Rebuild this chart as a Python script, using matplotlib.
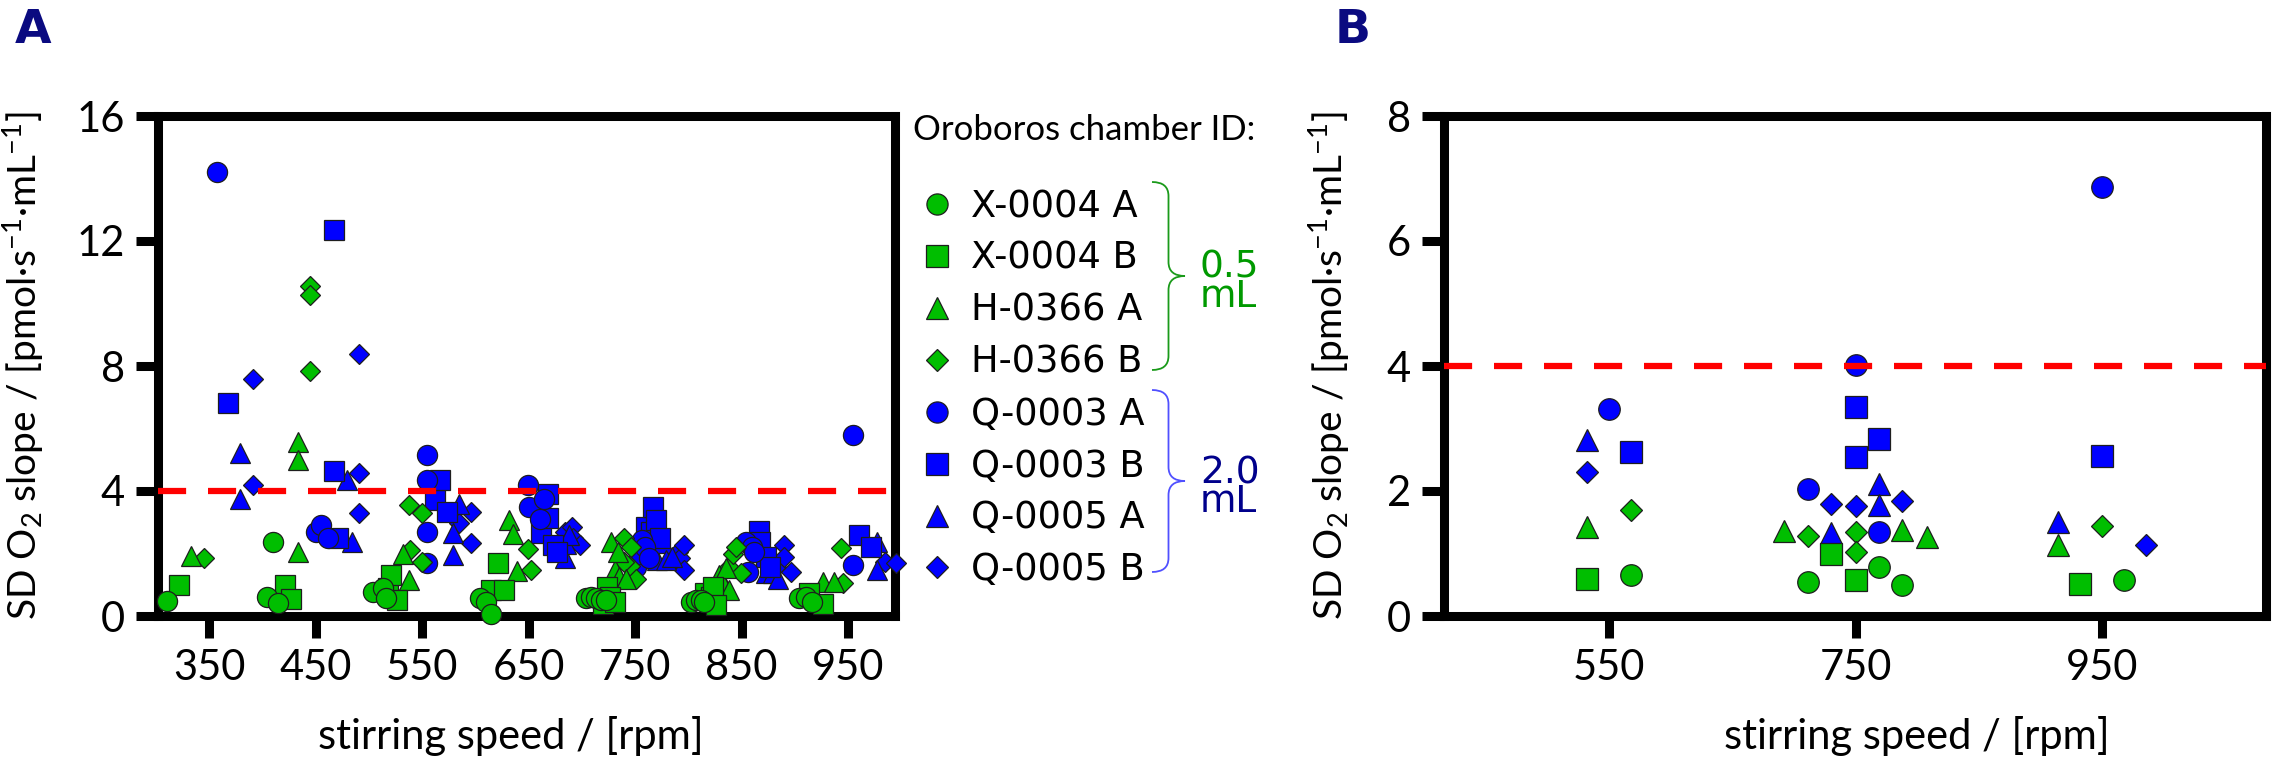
import matplotlib
matplotlib.use('Agg')
import matplotlib.pyplot as plt
from matplotlib.path import Path
from matplotlib.patches import PathPatch

plt.rcParams['font.family'] = ['Lato', 'DejaVu Sans']
plt.rcParams['mathtext.default'] = 'regular'

# ---- data ----
chambers = ['X-0004 A', 'X-0004 B', 'H-0366 A', 'H-0366 B',
            'Q-0003 A', 'Q-0003 B', 'Q-0005 A', 'Q-0005 B']

# panel A: all stirring speeds
a_x4a_rpm = [310, 404, 410, 415, 504, 513, 516, 604, 610, 615, 704, 709, 713, 718, 723,
             802, 807, 812, 815, 904, 910, 916]
a_x4a_sd = [0.48, 0.62, 2.38, 0.41, 0.78, 0.89, 0.57, 0.57, 0.46, 0.06, 0.57, 0.62, 0.57, 0.51, 0.51,
            0.46, 0.51, 0.51, 0.46, 0.57, 0.62, 0.46]
a_x4b_rpm = [322, 421, 427, 518, 521, 526, 615, 621, 627, 720, 724, 726, 731, 816, 821, 823, 826, 913, 926]
a_x4b_sd = [0.99, 0.99, 0.53, 0.9, 1.31, 0.51, 0.83, 1.69, 0.83, 0.4, 0.94, 0.62, 0.46, 0.73, 0.62, 0.94,
            0.35, 0.73, 0.4]
a_h3a_rpm = [333, 433, 433, 433, 532, 538, 632, 635, 639, 727, 731, 734, 735, 741, 829, 832, 835, 838, 926, 937]
a_h3a_sd = [1.92, 5.58, 4.99, 2.06, 2.0, 1.15, 3.07, 2.62, 1.45, 2.38, 1.47, 2.06, 1.26, 1.2, 1.31, 1.1,
            1.53, 0.83, 1.1, 1.1]
a_h3b_rpm = [345, 445, 445, 445, 538, 550, 539, 550, 649, 652, 740, 746, 745, 751, 740, 838, 842, 845, 849,
             943, 945]
a_h3b_sd = [1.85, 10.57, 10.27, 7.85, 3.55, 3.29, 2.1, 1.74, 2.16, 1.47, 2.49, 2.2, 1.6, 1.2, 1.72, 1.58,
            2.0, 2.22, 1.37, 2.17, 1.05]
a_q3a_rpm = [357, 450, 455, 462, 555, 555, 555, 555, 649, 650, 661, 664, 751, 754, 756, 759, 763, 854, 856,
             860, 862, 955, 955]
a_q3a_sd = [14.2, 2.7, 2.91, 2.49, 5.15, 4.35, 2.7, 1.69, 4.2, 3.5, 3.1, 3.75, 1.58, 2.0, 2.43, 2.22, 1.85,
            2.38, 1.42, 2.22, 2.06, 5.79, 1.63]
a_q3b_rpm = [368, 467, 467, 471, 562, 567, 573, 662, 668, 668, 673, 677, 760, 765, 767, 770, 773, 866, 867,
             873, 877, 960, 971]
a_q3b_sd = [6.83, 12.35, 4.65, 2.49, 3.71, 4.35, 3.34, 2.65, 3.9, 3.15, 2.27, 2.06, 2.86, 2.7, 3.5, 3.07,
            2.49, 2.72, 2.38, 1.88, 1.58, 2.59, 2.22]
a_q5a_rpm = [379, 379, 479, 484, 579, 579, 585, 684, 685, 688, 771, 776, 779, 785, 873, 879, 884, 977, 977]
a_q5a_sd = [5.23, 3.74, 4.35, 2.38, 2.65, 1.95, 3.6, 1.85, 2.3, 2.6, 1.79, 2.33, 1.79, 1.9, 1.37, 1.37,
            1.2, 2.38, 1.47]
a_q5b_rpm = [391, 391, 491, 491, 491, 585, 596, 596, 684, 691, 692, 698, 790, 792, 796, 796, 882, 890, 890,
             896, 985, 995]
a_q5b_sd = [7.58, 4.19, 8.4, 4.57, 3.29, 2.97, 3.34, 2.33, 2.7, 2.85, 2.5, 2.27, 2.06, 1.85, 2.27, 1.47,
            1.58, 2.27, 1.9, 1.42, 1.74, 1.7]

# panel B: 550 / 750 / 950 rpm
b_x4a_rpm = [568, 711, 769, 788, 968]
b_x4a_sd = [0.66, 0.54, 0.79, 0.49, 0.58]
b_x4b_rpm = [532, 730, 750, 932]
b_x4b_sd = [0.6, 0.99, 0.57, 0.52]
b_h3a_rpm = [532, 692, 788, 808, 914]
b_h3a_sd = [1.42, 1.36, 1.37, 1.27, 1.13]
b_h3b_rpm = [568, 711, 750, 750, 950]
b_h3b_sd = [1.69, 1.28, 1.34, 1.02, 1.44]
b_q3a_rpm = [550, 711, 750, 769, 950]
b_q3a_sd = [3.31, 2.04, 4.02, 1.34, 6.86]
b_q3b_rpm = [568, 750, 769, 750, 950]
b_q3b_sd = [2.62, 3.35, 2.83, 2.55, 2.56]
b_q5a_rpm = [532, 730, 769, 769, 914]
b_q5a_sd = [2.82, 1.33, 2.12, 1.77, 1.5]
b_q5b_rpm = [532, 730, 750, 788, 986]
b_q5b_sd = [2.31, 1.79, 1.76, 1.84, 1.14]

threshold = 4

W, H = 2272, 758
fig = plt.figure(figsize=(W / 100, H / 100), dpi=100)


def fx(x):
    return x / W


def fy(y):
    return 1 - y / H


GREEN = '#00BE00'
BLUE = '#0000FF'
marks = ['o', 's', '^', 'D'] * 2
cols = [GREEN] * 4 + [BLUE] * 4


def scatter_panel(ax, xs, ys, ms, ms_d):
    handles = [None] * 8
    for i in reversed(range(8)):
        h, = ax.plot(xs[i], ys[i], linestyle='none', marker=marks[i],
                     ms=ms_d if marks[i] == 'D' else ms, mfc=cols[i], mec='#1e1e1e',
                     mew=0.9, clip_on=False, zorder=3)
        handles[i] = h
    ax.axhline(threshold, color='#FF0000', lw=4.5, dashes=(4.5, 3.5), zorder=5)
    for s in ax.spines.values():
        s.set_linewidth(6.5)
    ax.tick_params(width=6.5, length=16, labelsize=30, pad=8)
    ax.set_ylabel('SD O$_2$ slope / [pmol·s$^{-1}$·mL$^{-1}$]', fontsize=28)
    ax.set_xlabel('stirring speed / [rpm]', fontsize=30)
    return handles


axA = fig.add_axes([fx(158), fy(616), (895 - 158) / W, 500 / H])
hA = scatter_panel(axA,
                   [a_x4a_rpm, a_x4b_rpm, a_h3a_rpm, a_h3b_rpm, a_q3a_rpm, a_q3b_rpm, a_q5a_rpm, a_q5b_rpm],
                   [a_x4a_sd, a_x4b_sd, a_h3a_sd, a_h3b_sd, a_q3a_sd, a_q3b_sd, a_q5a_sd, a_q5b_sd],
                   14.5, 10.2)
axA.set_xlim(302, 994)
axA.set_ylim(0, 16)
axA.set_xticks([350, 450, 550, 650, 750, 850, 950])
axA.set_yticks([0, 4, 8, 12, 16])
axA.yaxis.set_label_coords(-0.152, 0.5)
axA.xaxis.set_label_coords(0.479, -0.2)

axB = fig.add_axes([fx(1444), fy(616), (2266 - 1444) / W, 500 / H])
scatter_panel(axB,
              [b_x4a_rpm, b_x4b_rpm, b_h3a_rpm, b_h3b_rpm, b_q3a_rpm, b_q3b_rpm, b_q5a_rpm, b_q5b_rpm],
              [b_x4a_sd, b_x4b_sd, b_h3a_sd, b_h3b_sd, b_q3a_sd, b_q3b_sd, b_q5a_sd, b_q5b_sd],
              15.5, 11.5)
axB.set_xlim(416, 1083)
axB.set_ylim(0, 8)
axB.set_xticks([550, 750, 950])
axB.set_yticks([0, 2, 4, 6, 8])
axB.yaxis.set_label_coords(-0.112, 0.5)
axB.xaxis.set_label_coords(0.575, -0.2)

# panel letters
fig.text(fx(15), fy(8), 'A', fontsize=34, fontweight='bold', color='#0A0A80',
         family='DejaVu Sans', va='top', ha='left')
fig.text(fx(1335), fy(8), 'B', fontsize=34, fontweight='bold', color='#0A0A80',
         family='DejaVu Sans', va='top', ha='left')

# legend
fig.text(fx(913), fy(140), 'Oroboros chamber ID:', fontsize=25, va='baseline')
fig.legend(hA, chambers, loc='upper left', bbox_to_anchor=(fx(919), fy(188)), frameon=False,
           borderpad=0, borderaxespad=0, handlelength=1.0, handletextpad=0.42, labelspacing=0.405,
           markerscale=1.05, prop={'family': 'DejaVu Sans', 'size': 26.5})


def brace(x0, xt, yt, yb, color):
    xm = (x0 + xt) / 2
    ym = (yt + yb) / 2
    r = 14
    pts = [(x0, yt), (xm, yt), (xm, yt + r), (xm, ym - r), (xm, ym), (xt, ym),
           (xm, ym), (xm, ym + r), (xm, yb - r), (xm, yb), (x0, yb)]
    codes = [Path.MOVETO, Path.CURVE3, Path.CURVE3, Path.LINETO, Path.CURVE3, Path.CURVE3,
             Path.CURVE3, Path.CURVE3, Path.LINETO, Path.CURVE3, Path.CURVE3]
    verts = [(fx(x), fy(y)) for x, y in pts]
    fig.add_artist(PathPatch(Path(verts, codes), transform=fig.transFigure, fill=False,
                             edgecolor=color, lw=1.3))


brace(1152, 1185, 182, 370, '#1A9A1A')
brace(1152, 1185, 390, 572, '#5050FF')
fig.text(fx(1200), fy(277), '0.5', fontsize=27, family='DejaVu Sans', color='#009900', va='baseline')
fig.text(fx(1200), fy(307), 'mL', fontsize=27, family='DejaVu Sans', color='#009900', va='baseline')
fig.text(fx(1200), fy(483), '2.0', fontsize=27, family='DejaVu Sans', color='#00008B', va='baseline')
fig.text(fx(1200), fy(512), 'mL', fontsize=27, family='DejaVu Sans', color='#00008B', va='baseline')

fig.savefig('out.png', dpi=100)
